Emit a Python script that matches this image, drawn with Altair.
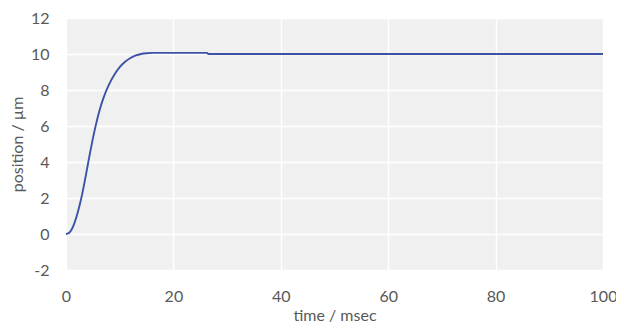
import altair as alt
import pandas as pd

time_ms = [0, 0.5, 1, 1.5, 2, 2.5, 3, 3.5, 4, 4.5, 5, 5.5, 6, 6.5, 7, 8, 9, 10, 11, 12, 13, 14, 15, 16, 26.3, 26.5, 100]
position_um = [0, 0.05, 0.22, 0.55, 1.0, 1.55, 2.2, 2.95, 3.75, 4.55, 5.3, 5.98, 6.6, 7.13, 7.58, 8.3, 8.85, 9.27, 9.57, 9.78, 9.92, 10.0, 10.04, 10.06, 10.06, 10.0, 10.0]

x_ticks = [0, 20, 40, 60, 80, 100]
y_ticks = [-2, 0, 2, 4, 6, 8, 10, 12]

df = pd.DataFrame({"t": time_ms, "p": position_um})

FONT = "Lato"
TXT = "#595959"

chart = alt.Chart(df).mark_line(color="#3C52A6", strokeWidth=1.9, interpolate="monotone").encode(
    x=alt.X("t:Q", scale=alt.Scale(domain=[0, 100], nice=False),
            axis=alt.Axis(title="time / msec", values=x_ticks, labelFlush=False, grid=True,
                          gridColor="white", gridWidth=1.5, domain=False, ticks=False,
                          labelPadding=18, titlePadding=3)),
    y=alt.Y("p:Q", scale=alt.Scale(domain=[-2, 12], nice=False),
            axis=alt.Axis(title="position / µm", values=y_ticks, grid=True,
                          gridColor="white", gridWidth=1.5, domain=False, ticks=False,
                          labelExpr="'' + datum.value",
                          labelPadding=17, titlePadding=5)),
).properties(
    width=537, height=252,
    autosize=alt.AutoSizeParams(type="none"),
    padding={"left": 58, "top": 10, "right": 13, "bottom": 58},
).configure_view(
    fill="#f0f0f0", stroke=None
).configure_axis(
    labelFont=FONT, titleFont=FONT, labelColor=TXT, titleColor=TXT,
    labelFontSize=16, titleFontSize=16, titleFontWeight="normal"
)

chart.save("out.html", embed_options={"renderer": "svg", "actions": False})
